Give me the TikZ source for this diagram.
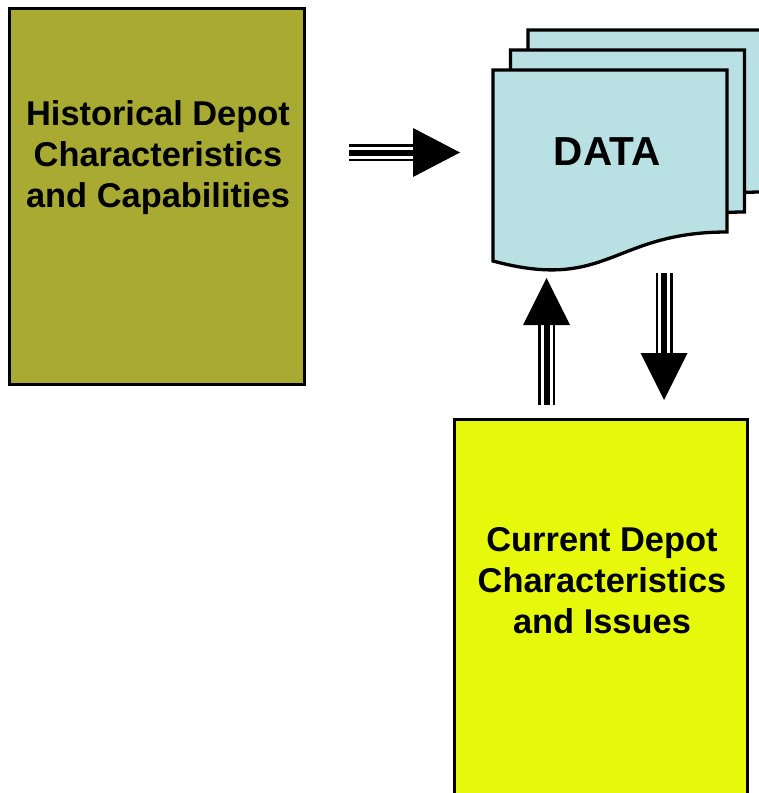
\documentclass[tikz,border=0pt]{standalone}
\usepackage{fontspec}
\setmainfont{Liberation Sans}
\definecolor{histolive}{RGB}{168,170,50}
\definecolor{curyellow}{RGB}{230,249,10}
\definecolor{datablue}{RGB}{185,224,227}
\begin{document}
\begin{tikzpicture}[x=1pt,y=-1pt,
  box/.style={draw=black,line width=3pt,inner sep=0pt,outer sep=0pt},
  boxtext/.style={font=\bfseries\fontsize{34.4}{41}\selectfont,align=center,inner sep=0pt},
  page/.style={draw=black,line width=3.3pt,fill=datablue,line join=miter},
  shaftouter/.style={line width=17pt},
  shaftgap/.style={white,line width=12pt},
  shaftcore/.style={line width=6pt},
  head/.style={fill=black}]
\clip (0,0) rectangle (759,793);
\fill[white] (0,0) rectangle (759,793);

% source boxes
\node[box,fill=histolive,minimum width=294.5pt,minimum height=376pt] (hist) at (156.75,196) {};
\node[boxtext] (histtext) at (158,158) {Historical Depot\\Characteristics\\and Capabilities};

\node[box,fill=curyellow,minimum width=293pt,minimum height=400pt] (cur) at (600.5,619) {};
\node[boxtext] (curtext) at (602,581) {Current Depot\\Characteristics\\and Issues};

% stacked document pages, back to front
\foreach \dx/\dy in {35/-40, 17.5/-20, 0/0} {
  \draw[page] (493+\dx,70+\dy) -- (727+\dx,70+\dy) -- (727+\dx,232+\dy)
    .. controls (612+\dx,232+\dy) and (608+\dx,292+\dy) .. (493+\dx,261+\dy) -- cycle;
}
\node[font=\bfseries\fontsize{40.5}{48}\selectfont,inner sep=0pt] (datatext) at (607,152) {DATA};

% triple-line arrow: history -> data
\coordinate (hA) at (349,152.5);
\coordinate (hB) at (413,152.5);
\coordinate (hT) at (460,152.5);
\draw[shaftouter] (hA) -- (hB);
\draw[shaftgap] (hA) -- (hB);
\draw[shaftcore] (hA) -- (hB);
\fill[head] (hT) -- ([yshift=24.5pt]hB) -- ([yshift=-24.5pt]hB) -- cycle;

% triple-line arrow: current -> data
\coordinate (uA) at (546.5,405);
\coordinate (uB) at (546.5,325);
\coordinate (uT) at (546.5,278);
\draw[shaftouter] (uA) -- (uB);
\draw[shaftgap] (uA) -- (uB);
\draw[shaftcore] (uA) -- (uB);
\fill[head] (uT) -- ([xshift=-23.5pt]uB) -- ([xshift=23.5pt]uB) -- cycle;

% triple-line arrow: data -> current
\coordinate (dA) at (664,273);
\coordinate (dB) at (664,353);
\coordinate (dT) at (664,400);
\draw[shaftouter] (dA) -- (dB);
\draw[shaftgap] (dA) -- (dB);
\draw[shaftcore] (dA) -- (dB);
\fill[head] (dT) -- ([xshift=-23.5pt]dB) -- ([xshift=23.5pt]dB) -- cycle;
\end{tikzpicture}
\end{document}
